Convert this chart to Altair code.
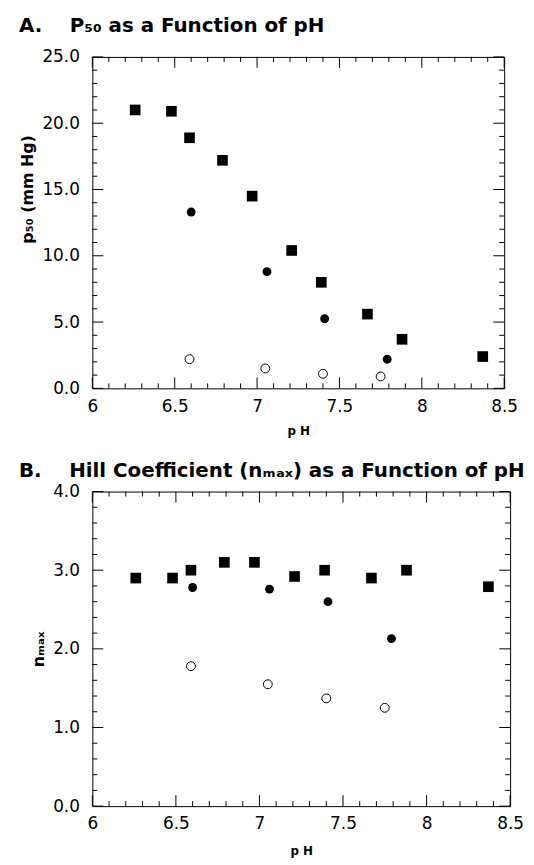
import altair as alt
import pandas as pd

# ---------- data ----------
# Panel A: P50 (mm Hg) vs pH
ph_sq = [6.26, 6.48, 6.59, 6.79, 6.97, 7.21, 7.39, 7.67, 7.88, 8.37]
p50_sq = [21.0, 20.9, 18.9, 17.2, 14.5, 10.4, 8.0, 5.6, 3.7, 2.4]
ph_fc = [6.60, 7.06, 7.41, 7.79]
p50_fc = [13.3, 8.8, 5.25, 2.2]
ph_oc = [6.59, 7.05, 7.40, 7.75]
p50_oc = [2.2, 1.5, 1.1, 0.9]

# Panel B: Hill coefficient (n_max) vs pH
n_sq = [2.90, 2.90, 3.00, 3.10, 3.10, 2.92, 3.00, 2.90, 3.00, 2.79]
n_fc = [2.78, 2.76, 2.60, 2.13]
n_oc = [1.78, 1.55, 1.37, 1.25]

# axis ticks
x_major = [6.0, 6.5, 7.0, 7.5, 8.0, 8.5]
x_minor = [6.1, 6.2, 6.3, 6.4, 6.6, 6.7, 6.8, 6.9, 7.1, 7.2, 7.3, 7.4,
           7.6, 7.7, 7.8, 7.9, 8.1, 8.2, 8.3, 8.4]
ya_major = [0, 5, 10, 15, 20, 25]
ya_minor = [1, 2, 3, 4, 6, 7, 8, 9, 11, 12, 13, 14, 16, 17, 18, 19, 21, 22, 23, 24]
yb_major = [0, 1, 2, 3, 4]
yb_minor = [0.2, 0.4, 0.6, 0.8, 1.2, 1.4, 1.6, 1.8, 2.2, 2.4, 2.6, 2.8,
            3.2, 3.4, 3.6, 3.8]

FONT = "DejaVu Sans"
MAJ, MIN = 11, 5


def panel(W, H, ydom, ytitle, ph1, v1, ph2, v2, ph3, v3, ymaj, ymin,
          title, toff, xtpad, ytitle_y=None):
    xs = alt.Scale(domain=[6, 8.5], nice=False, zero=False)
    ys = alt.Scale(domain=ydom, nice=False, zero=False)
    xaxis = alt.Axis(values=x_major, format="~g", title="p H", ticks=False,
                     domain=False, grid=False, labelFont=FONT, labelFontSize=17,
                     labelColor="black", labelPadding=10, labelFlush=False,
                     titleFont=FONT, titleFontSize=12, titleFontWeight="bold",
                     titleColor="black", titlePadding=xtpad)
    yargs = dict(values=ymaj, format=".1f", title=ytitle, ticks=False,
                 domain=False, grid=False, labelFont=FONT, labelFontSize=17,
                 labelColor="black", labelPadding=13, labelFlush=False,
                 titleFont=FONT, titleFontSize=16, titleFontWeight="bold",
                 titleColor="black", titlePadding=6)
    if ytitle_y is not None:
        yargs["titleY"] = ytitle_y
    yaxis = alt.Axis(**yargs)
    X = lambda f: alt.X(f, scale=xs, axis=xaxis)
    Y = lambda f: alt.Y(f, scale=ys, axis=yaxis)
    sq = alt.Chart(pd.DataFrame({"ph": ph1, "v": v1})).mark_point(
        shape="square", filled=True, size=115, color="black", opacity=1
    ).encode(x=X("ph:Q"), y=Y("v:Q"))
    fc = alt.Chart(pd.DataFrame({"ph": ph2, "v": v2})).mark_circle(
        size=80, color="black", opacity=1
    ).encode(x=X("ph:Q"), y=Y("v:Q"))
    oc = alt.Chart(pd.DataFrame({"ph": ph3, "v": v3})).mark_point(
        shape="circle", filled=False, size=80, color="black", strokeWidth=1,
        opacity=1
    ).encode(x=X("ph:Q"), y=Y("v:Q"))
    layers = [sq, fc, oc]
    for vals, L in ((x_major, MAJ), (x_minor, MIN)):
        r = alt.Chart(pd.DataFrame({"ph": vals})).mark_rule(color="black", strokeWidth=1)
        layers.append(r.encode(x=X("ph:Q"), y=alt.value(H), y2=alt.value(H - L)))
        layers.append(r.encode(x=X("ph:Q"), y=alt.value(0), y2=alt.value(L)))
    for vals, L in ((ymaj, MAJ), (ymin, MIN)):
        r = alt.Chart(pd.DataFrame({"v": vals})).mark_rule(color="black", strokeWidth=1)
        layers.append(r.encode(y=Y("v:Q"), x=alt.value(0), x2=alt.value(L)))
        layers.append(r.encode(y=Y("v:Q"), x=alt.value(W), x2=alt.value(W - L)))
    return alt.layer(*layers).properties(
        width=W, height=H,
        title=alt.TitleParams(text=title, anchor="start", frame="group",
                              dx=-74, font=FONT, fontSize=20, fontWeight="bold",
                              color="black", offset=toff))


chartA = panel(415, 334, [0, 25], "p\u2085\u2080 (mm Hg)",
               ph_sq, p50_sq, ph_fc, p50_fc, ph_oc, p50_oc,
               ya_major, ya_minor,
               "A.\u00a0\u00a0\u00a0\u00a0P\u2085\u2080 as a Function of pH", 12,
               12, ytitle_y=133)
chartB = panel(421, 317, [0, 4], "n\u2098\u2090\u2093",
               ph_sq, n_sq, ph_fc, n_fc, ph_oc, n_oc,
               yb_major, yb_minor,
               "B.\u00a0\u00a0\u00a0\u00a0Hill\u00a0Coefficient\u00a0(n\u2098\u2090\u2093)\u00a0as\u00a0a\u00a0Function\u00a0of\u00a0pH", 2,
               14)

chart = alt.vconcat(chartA, chartB, spacing=22).configure_view(
    stroke="black", strokeWidth=1
).properties(padding={"left": 10, "top": 4, "right": 0, "bottom": 0})

chart.save("out.html", embed_options={"renderer": "svg", "actions": False})
